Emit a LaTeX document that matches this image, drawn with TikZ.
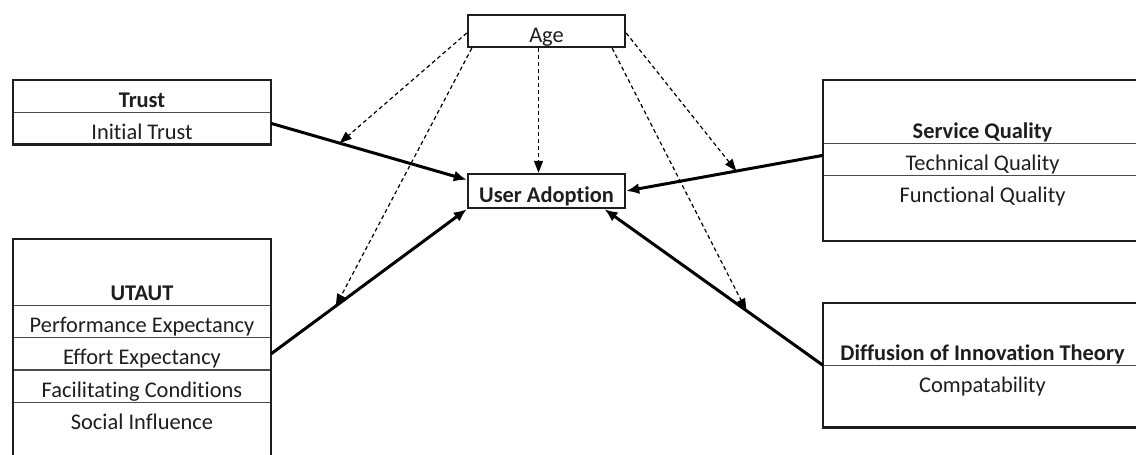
\documentclass[tikz,border=0pt]{standalone}
\usepackage{fontspec}
\setmainfont{Carlito}[Ligatures=NoCommon]
\usetikzlibrary{positioning,arrows.meta}
\definecolor{inkgray}{HTML}{1E1E1E}
\definecolor{rulegray}{HTML}{4A4A4A}

\begin{document}
\begin{tikzpicture}[x=1pt, y=-1pt,
        font=\fontsize{22.4}{26}\selectfont, text=inkgray,
        cell/.style={minimum width=258pt, minimum height=32pt, inner sep=0pt, text height=22pt, text depth=0pt},
        widecell/.style={cell, minimum width=319pt},
        midbox/.style={draw=inkgray, line width=2.4pt, minimum width=157pt, inner sep=0pt, text height=22pt, text depth=0pt},
        frame/.style={draw=inkgray, line width=2.4pt},
        rowline/.style={draw=rulegray, line width=1.2pt},
        link/.style={draw=black, line width=3pt, -{Latex[length=13pt,width=11pt]}},
        moderator/.style={draw=black, line width=1.2pt, dash pattern=on 4pt off 3pt, -{Triangle[length=12pt,width=9pt]}}]
        \useasboundingbox[fill=white] (0,0) rectangle (1136,455);

        % trust
        \node[cell] (trust) at (142,96) {\textbf{Trust}};
        \node[cell, below=0pt of trust] (initial) {Initial Trust};
        \draw[rowline] (trust.south west) -- (trust.south east);
        \draw[frame] (trust.north west) rectangle (initial.south east);

        % utaut
        \node[cell] (utaut) at (142,289) {\textbf{UTAUT}};
        \node[cell, below=0pt of utaut] (perf) {Performance Expectancy};
        \node[cell, below=0pt of perf] (effort) {Effort Expectancy};
        \node[cell, below=0pt of effort] (facil) {Facilitating Conditions};
        \node[cell, below=0pt of facil] (social) {Social Influence};
        \draw[rowline] (utaut.south west) -- (utaut.south east);
        \draw[rowline] (perf.south west) -- (perf.south east);
        \draw[rowline] (effort.south west) -- (effort.south east);
        \draw[rowline] (facil.south west) -- (facil.south east);
        \draw[frame] ([yshift=34pt]utaut.north west) rectangle ([yshift=-30pt]social.south east);

        % service quality
        \node[widecell] (service) at (982.5,127) {\textbf{Service Quality}};
        \node[widecell, below=0pt of service] (technical) {Technical Quality};
        \node[widecell, below=0pt of technical] (functional) {Functional Quality};
        \draw[rowline] (service.south west) -- (service.south east);
        \draw[rowline] (technical.south west) -- (technical.south east);
        \draw[frame] ([yshift=31pt]service.north west) rectangle ([yshift=-33pt]functional.south east);

        % diffusion of innovation
        \node[widecell] (diffusion) at (982.5,349) {\textbf{Diffusion of Innovation Theory}};
        \node[widecell, below=0pt of diffusion] (compat) {Compatability};
        \draw[rowline] (diffusion.south west) -- (diffusion.south east);
        \draw[frame] ([yshift=30pt]diffusion.north west) rectangle ([yshift=-30pt]compat.south east);

        % age and adoption
        \node[midbox, minimum height=32pt] (age) at (546.5,31) {Age};
        \node[midbox, minimum height=34pt] (adoption) at (546.5,191) {\textbf{User Adoption}};

        \draw[link] ([yshift=5pt]initial.east) -- coordinate[pos=.35] (onTrust) (adoption.172);
        \draw[link] (effort.east) -- coordinate[pos=.33] (onUtaut) (adoption.south west);
        \draw[link] ([yshift=4pt]technical.west) -- coordinate[pos=.44] (onService) (adoption.east);
        \draw[link] (diffusion.south west) -- coordinate[pos=.35] (onDiffusion) ([xshift=58pt]adoption.south);

        \draw[moderator] ([yshift=-2pt]age.west) -- (onTrust);
        \draw[moderator] ([xshift=5pt]age.south west) -- (onUtaut);
        \draw[moderator] ([xshift=-8pt]age.south) -- ([xshift=-8pt]adoption.north);
        \draw[moderator] ([yshift=-2pt]age.east) -- (onService);
        \draw[moderator] ([xshift=-14pt]age.south east) -- (onDiffusion);
\end{tikzpicture}
\end{document}
